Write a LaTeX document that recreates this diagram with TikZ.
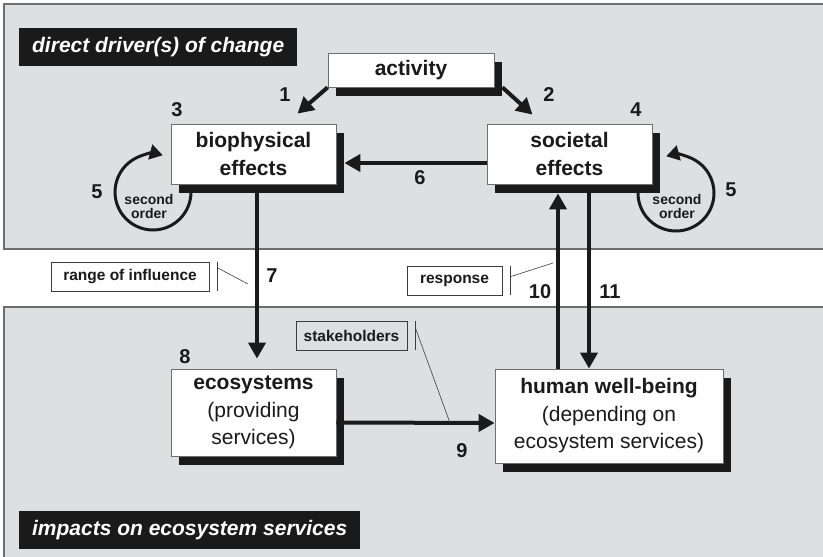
\documentclass[tikz,border=0pt]{standalone}
\usepackage{fontspec}
\setmainfont{Liberation Sans}
\usetikzlibrary{arrows.meta,shadows}
\definecolor{panel}{HTML}{DEDFE1}
\definecolor{ink}{HTML}{1A1A1A}
\definecolor{rule}{HTML}{6E6E6E}
\begin{document}
\begin{tikzpicture}[x=1pt,y=-1pt,
  panelbox/.style={draw=rule, line width=1.3pt, fill=panel},
  tag/.style={fill=ink, text=white, inner ysep=0pt, minimum height=38pt, anchor=west,
    font=\fontsize{21}{25}\selectfont\bfseries\itshape},
  box/.style={draw=rule, line width=0.8pt, fill=white, inner sep=2pt, align=center,
    font=\fontsize{21}{27.5}\selectfont, text=ink,
    drop shadow={shadow xshift=8pt, shadow yshift=-9pt, opacity=1, fill=ink}},
  callbox/.style={draw=ink!85, line width=0.6pt, fill=white, minimum height=29pt,
    inner sep=0pt, font=\fontsize{15.5}{16}\selectfont\bfseries, text=ink},
  callline/.style={draw=ink!85, line width=0.6pt},
  num/.style={font=\fontsize{20}{20}\selectfont\bfseries, text=ink, inner sep=0pt},
  small/.style={font=\fontsize{14}{14}\selectfont\bfseries, text=ink, align=center, inner sep=0pt},
  conn/.style={draw=ink, line width=4pt, -{Triangle[length=16pt,width=17pt]}},
  loopconn/.style={draw=ink, line width=3pt, -{Triangle[length=13pt,width=15pt]}}
]
\useasboundingbox (0,0) rectangle (823,557);
\fill[white] (0,0) rectangle (823,557);

% two shaded panels
\draw[panelbox] (4,4) rectangle (830,249);
\draw[panelbox] (4,307) rectangle (830,562);

% panel titles
\node[tag, inner xsep=0pt, minimum width=278pt] (ttop) at (19,47) {direct driver(s) of change};
\node[tag, inner xsep=0pt, minimum width=341pt] (tbot) at (19,530) {impacts on ecosystem services};

% second-order feedback loops
\coordinate (lc) at (153,192);
\coordinate (rc) at (676,193);
\draw[loopconn] (lc) ++(38,0) arc[start angle=0, end angle=285, radius=38];
\draw[loopconn] (rc) ++(-38,0) arc[start angle=180, end angle=-105, radius=38];
\node[small] (so1) at (149,206) {second\\order};
\node[small] (so2) at (677,206) {second\\order};

% boxes
\node[box, minimum width=166pt, minimum height=34pt] (act) at (411,70) {\textbf{activity}};
\node[box, minimum width=165pt, minimum height=60pt] (bio) at (253.5,154) {\textbf{biophysical}\\\textbf{effects}};
\node[box, minimum width=165pt, minimum height=60pt] (soc) at (569.5,154) {\textbf{societal}\\\textbf{effects}};
\node[box, minimum width=165pt, minimum height=87pt] (eco) at (253.5,412.5) {\textbf{ecosystems}\\(providing\\services)};
\node[box, minimum width=228pt, minimum height=94pt] (hw) at (609,416) {\textbf{human well-being}\\(depending on\\ecosystem services)};

% connectors
\draw[conn] (act.south west) -- ([xshift=44pt,yshift=10pt]bio.north);
\draw[conn] ([xshift=8pt]act.south east) -- ([xshift=-37pt,yshift=9pt]soc.north);
\draw[conn] ([yshift=-9pt]soc.west) -- ([xshift=8pt,yshift=-9pt]bio.east);
\draw[conn] ([xshift=3.5pt,yshift=-9pt]bio.south) -- ([xshift=3.5pt,yshift=10pt]eco.north);
\draw[conn] ([yshift=-10pt]eco.east) -- ([yshift=-7pt]hw.west);
\draw[conn] ([xshift=-51pt]hw.north) -- ([xshift=-11.5pt,yshift=-9pt]soc.south);
\draw[conn] ([xshift=19.5pt,yshift=-9pt]soc.south) -- ([xshift=-20pt]hw.north);

% callouts
\node[callbox, minimum width=158pt] (roi) at (130,276.5) {range of influence};
\node[callbox, minimum width=95pt] (resp) at (454.5,280.5) {response};
\node[callbox, minimum width=111pt, fill=panel] (stk) at (351.5,335.5) {stakeholders};
\draw[callline] ([xshift=8pt]roi.north east) -- ([xshift=8pt]roi.south east);
\draw[callline] ([xshift=8pt,yshift=-6pt]roi.north east) -- (248,284);
\draw[callline] ([xshift=8pt]resp.north east) -- ([xshift=8pt]resp.south east);
\draw[callline] ([xshift=8pt,yshift=-11pt]resp.north east) -- (553,263);
\draw[callline] ([xshift=8pt]stk.north east) -- ([xshift=8pt]stk.south east);
\draw[callline] ([xshift=8pt,yshift=-7pt]stk.north east) -- (450,423);

% step numbers
\node[num] (n1) at (285,95) {1};
\node[num] (n2) at (549,95) {2};
\node[num] (n3) at (177,110) {3};
\node[num] (n4) at (636,110) {4};
\node[num] (n5a) at (97,192) {5};
\node[num] (n5b) at (731,190) {5};
\node[num] (n6) at (420,178) {6};
\node[num] (n7) at (272,276) {7};
\node[num] (n8) at (185,357) {8};
\node[num] (n9) at (462,451) {9};
\node[num] (n10) at (540,292) {10};
\node[num] (n11) at (610,292) {11};
\end{tikzpicture}
\end{document}
